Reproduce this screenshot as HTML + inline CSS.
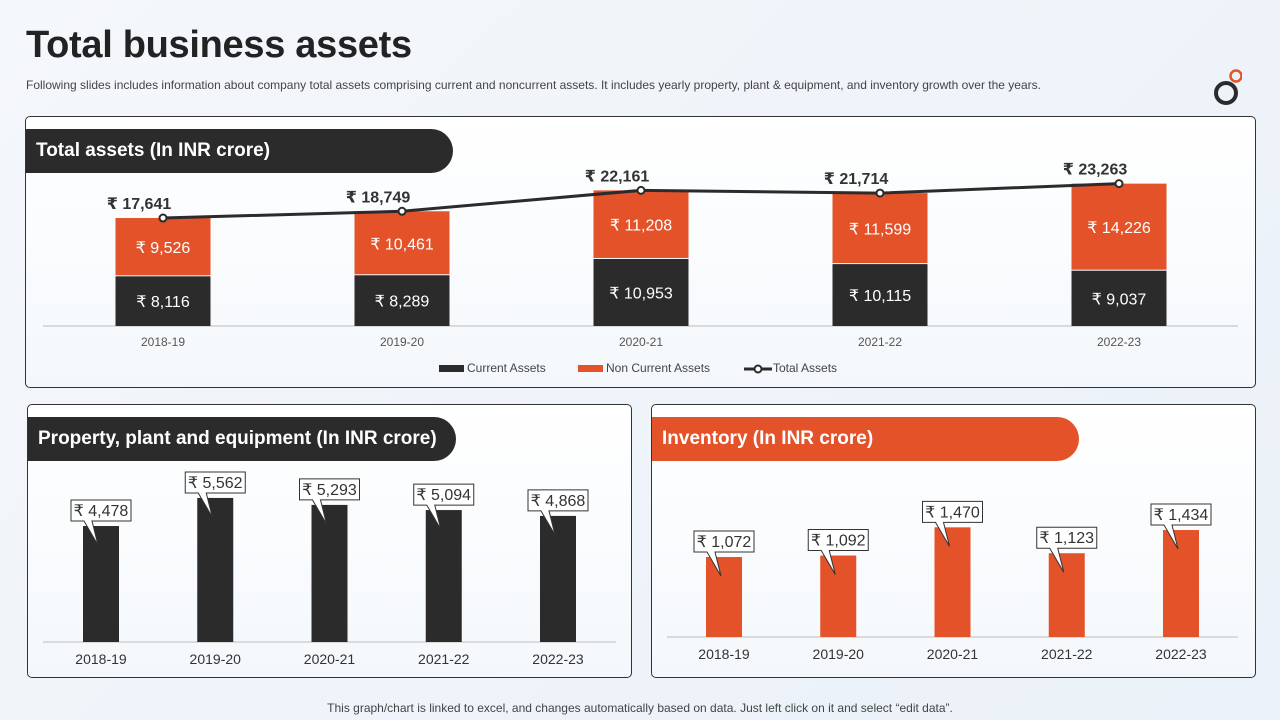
<!DOCTYPE html>
<html><head><meta charset="utf-8">
<style>
body{margin:0;width:1280px;height:720px;overflow:hidden;background:linear-gradient(135deg,#f4f7fb,#eaf1f8);font-family:"Liberation Sans","DejaVu Sans",sans-serif;position:relative;color:#222}
.title{position:absolute;left:26px;top:24px;font-size:38px;font-weight:bold;color:#222;margin:0;letter-spacing:-0.3px}
.sub{position:absolute;left:26px;top:78px;font-size:12px;color:#444}
.panel{position:absolute;border:1px solid #333;border-radius:5px;background:linear-gradient(180deg,#ffffff,#f4f8fc)}
.pill{position:absolute;height:44px;border-radius:0 22px 22px 0;color:#fff;font-weight:bold;font-size:19px;line-height:44px;padding-left:10px;box-sizing:border-box}
.foot{position:absolute;left:0;width:1280px;top:701px;text-align:center;font-size:12px;color:#444}
svg{position:absolute;left:0;top:0}
</style></head><body>
<h1 class="title">Total business assets</h1>
<div class="sub">Following slides includes information about company total assets comprising current and noncurrent assets. It includes yearly property, plant &amp; equipment, and inventory growth over the years.</div>
<svg width="30" height="40" style="left:1212px;top:66px"><circle cx="14" cy="27" r="10" fill="none" stroke="#2b2b2b" stroke-width="4"/><circle cx="24" cy="10" r="5.5" fill="none" stroke="#e4522a" stroke-width="2.5"/></svg>
<div class="panel" style="left:25px;top:116px;width:1229px;height:270px"></div>
<div class="panel" style="left:27px;top:404px;width:603px;height:272px"></div>
<div class="panel" style="left:651px;top:404px;width:603px;height:272px"></div>
<div class="pill" style="left:26px;top:129px;width:427px;background:#2b2b2b">Total assets (In INR crore)</div>
<div class="pill" style="left:28px;top:417px;width:428px;background:#2b2b2b">Property, plant and equipment (In INR crore)</div>
<div class="pill" style="left:652px;top:417px;width:427px;background:#e4522a">Inventory (In INR crore)</div>
<svg id="chart" width="1280" height="720"></svg>
<div class="foot">This graph/chart is linked to excel, and changes automatically based on data. Just left click on it and select “edit data”.</div>
<script>
const years=["2018-19","2019-20","2020-21","2021-22","2022-23"];
const currentAssets=[8116,8289,10953,10115,9037];
const nonCurrentAssets=[9526,10461,11208,11599,14226];
const totalAssets=[17641,18749,22161,21714,23263];
const ppeValues=[4478,5562,5293,5094,4868];
const inventoryValues=[1072,1092,1470,1123,1434];
const svg=document.getElementById('chart');
const NS='http://www.w3.org/2000/svg';
function mk(tag,attrs,parent){const e=document.createElementNS(NS,tag);for(const k in attrs)e.setAttribute(k,attrs[k]);(parent||svg).appendChild(e);return e;}
function txt(s,attrs){const e=mk('text',attrs);e.textContent=s;return e;}
const fmt=v=>'₹ '+v.toLocaleString('en-US');
const tx=i=>163+i*239, base1=326, ty=v=>base1-v*0.00612, bw=95;
let l=mk('line',{x1:43,x2:1238,y1:base1,y2:base1,stroke:'#bbb'});


years.forEach((y,i)=>{
 const c=currentAssets[i],n=nonCurrentAssets[i];
 let r=mk('rect',{x:tx(i)-bw/2,y:ty(c),width:bw,height:base1-ty(c),fill:'#2b2b2b'});
 
 
 let r2=mk('rect',{x:tx(i)-bw/2,y:ty(c+n),width:bw,height:ty(c)-ty(c+n)-1,fill:'#e4522a'});
 
 
 let t=txt(fmt(c),{x:tx(i),y:(ty(c)+base1)/2+6,'text-anchor':'middle',fill:'#fff','font-size':16});
 
 
 t=txt(fmt(n),{x:tx(i),y:(ty(c)+ty(c+n))/2+6,'text-anchor':'middle',fill:'#fff','font-size':16});
 
 
 t=txt(y,{x:tx(i),y:346,'text-anchor':'middle',fill:'#555','font-size':12});
 
 
});
let pl=mk('polyline',{points:totalAssets.map((v,i)=>tx(i)+','+ty(v)).join(' '),fill:'none',stroke:'#2b2b2b','stroke-width':3});


totalAssets.forEach((v,i)=>{
 let c=mk('circle',{cx:tx(i),cy:ty(v),r:3.5,fill:'#fff',stroke:'#2b2b2b','stroke-width':2});
 
 
 let t=txt(fmt(v),{x:tx(i)-24,y:ty(v)-9,'text-anchor':'middle',fill:'#333','font-size':16,'font-weight':'bold'});
 
 
});
let g=mk('g',{});
mk('rect',{x:439,y:365,width:25,height:7,fill:'#2b2b2b'},g);
let lt=mk('text',{x:467,y:372,'font-size':12,fill:'#444'},g);lt.textContent='Current Assets';
g=mk('g',{});
mk('rect',{x:578,y:365,width:25,height:7,fill:'#e4522a'},g);
lt=mk('text',{x:606,y:372,'font-size':12,fill:'#444'},g);lt.textContent='Non Current Assets';
g=mk('g',{});
mk('line',{x1:744,x2:772,y1:369,y2:369,stroke:'#2b2b2b','stroke-width':3},g);
mk('circle',{cx:758,cy:369,r:3.5,fill:'#fff',stroke:'#2b2b2b','stroke-width':2},g);
lt=mk('text',{x:773,y:372,'font-size':12,fill:'#444'},g);lt.textContent='Total Assets';
function small(vals,x0,base,scale,color,axisX1,axisX2,name){
 let a=mk('line',{x1:axisX1,x2:axisX2,y1:base,y2:base,stroke:'#bbb'});
 
 
 vals.forEach((v,i)=>{
  const cx=x0+i*114.25, top=base-v*scale;
  let r=mk('rect',{x:cx-18,y:top,width:36,height:base-top,fill:color});
  
  
  let cg=mk('g',{});
  
  
  const bx=cx-30,by=top-26,w=60,h=21;
  mk('path',{d:`M${bx} ${by} H${bx+w} V${by+h} H${cx-9} L${cx-3} ${top+19} L${cx-17} ${by+h} H${bx} Z`,fill:'#fff',stroke:'#333','stroke-width':1},cg);
  let t=mk('text',{x:bx+w/2,y:by+16,'text-anchor':'middle','font-size':16,fill:'#333'},cg);t.textContent=fmt(v);
  t=txt(years[i],{x:cx,y:base+22,'text-anchor':'middle',fill:'#333','font-size':14});
  
  
 });
}
small(ppeValues,101,642,0.0259,'#2b2b2b',43,616,'ppe');
small(inventoryValues,724,637,0.0746,'#e4522a',667,1238,'inventory');
</script>
</body></html>
